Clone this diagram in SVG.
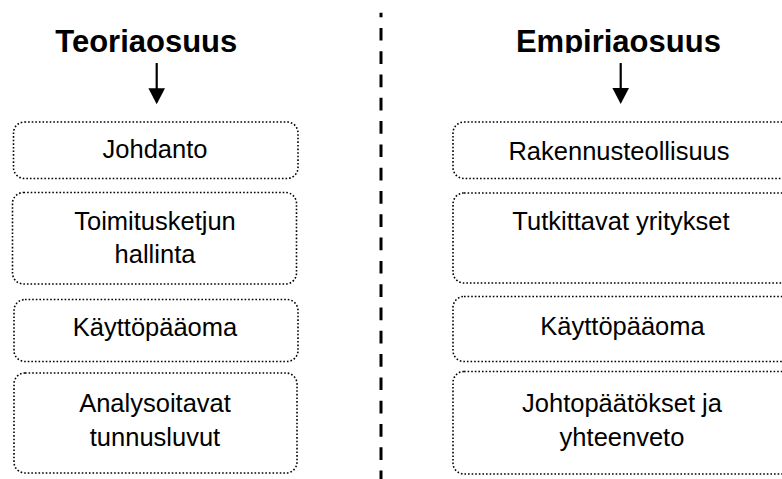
<svg xmlns="http://www.w3.org/2000/svg" width="782" height="479" viewBox="0 0 782 479">
<defs>
<style>
.box{fill:#fff;stroke:#000;stroke-width:1.6;stroke-dasharray:1.6 2;}
.t{font-family:"Liberation Sans",Arial,sans-serif;font-size:25.5px;fill:#000;text-anchor:middle;}
.h{font-family:"Liberation Sans",Arial,sans-serif;font-size:31px;font-weight:bold;fill:#000;text-anchor:middle;}
.shaft{stroke:#000;stroke-width:2.2;}
.div{stroke:#000;stroke-width:3;stroke-dasharray:12.7 10.6;stroke-dashoffset:8.1;}
</style>
<clipPath id="clipR"><rect x="400" y="0" width="382" height="53"/></clipPath>
</defs>
<rect width="782" height="479" fill="#fff"/>
<g id="title-teoria"><text class="h" x="146.3" y="51.7">Teoriaosuus</text></g>
<g id="title-empiria" clip-path="url(#clipR)"><text class="h" x="618.4" y="51.7">Empiriaosuus</text></g>
<g id="connectors">
<line class="div" x1="381" y1="12.7" x2="381" y2="479"/>
<line class="shaft" x1="156.7" y1="63" x2="156.7" y2="90"/>
<polygon points="148.4,88.3 165,88.3 156.7,104.3" fill="#000"/>
<line class="shaft" x1="620.7" y1="63" x2="620.7" y2="90"/>
<polygon points="612.4,88 629,88 620.7,104" fill="#000"/>
</g>
<g id="l1"><rect class="box" x="13.5" y="122" width="284.5" height="56.5" rx="11"/><text class="t" x="155" y="158.3">Johdanto</text></g>
<g id="l2"><rect class="box" x="12.5" y="192.5" width="284" height="91.5" rx="11"/><text class="t" x="155" y="229.5">Toimitusketjun</text><text class="t" x="155" y="263">hallinta</text></g>
<g id="l3"><rect class="box" x="14" y="299.5" width="284" height="62" rx="11"/><text class="t" x="155" y="336">Käyttöpääoma</text></g>
<g id="l4"><rect class="box" x="14" y="373" width="283" height="100" rx="11"/><text class="t" x="155" y="412">Analysoitavat</text><text class="t" x="155" y="446">tunnusluvut</text></g>
<g id="r1"><rect class="box" x="453" y="122" width="342" height="56.5" rx="11"/><text class="t" x="619" y="159.5">Rakennusteollisuus</text></g>
<g id="r2"><rect class="box" x="453" y="193" width="340" height="90" rx="11"/><text class="t" x="621" y="230">Tutkittavat yritykset</text></g>
<g id="r3"><rect class="box" x="453" y="296.5" width="342" height="65" rx="11"/><text class="t" x="622.5" y="334.5">Käyttöpääoma</text></g>
<g id="r4"><rect class="box" x="453" y="371.5" width="340" height="102.5" rx="11"/><text class="t" x="622" y="411.5">Johtopäätökset ja</text><text class="t" x="622" y="445.5">yhteenveto</text></g>
</svg>
